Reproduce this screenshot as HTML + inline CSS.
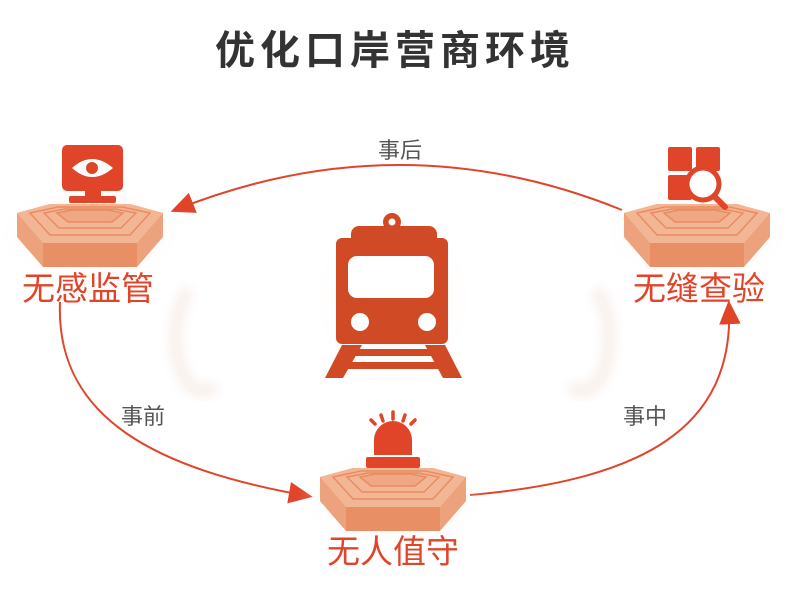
<!DOCTYPE html><html><head><meta charset="utf-8"><style>body{margin:0;background:#fff}svg{display:block}text{font-family:"Liberation Sans","Noto Sans CJK SC",sans-serif}</style></head><body>
<svg width="793" height="589" viewBox="0 0 793 589" xmlns="http://www.w3.org/2000/svg">
<defs>
<radialGradient id="g"><stop offset="0" stop-color="#f6c9ae" stop-opacity=".8"/><stop offset="1" stop-color="#fff" stop-opacity="0"/></radialGradient>
<filter id="bl"><feGaussianBlur stdDeviation="5"/></filter>
<marker id="ah" viewBox="0 0 10 10" refX="8" refY="5" markerWidth="24" markerHeight="24" orient="auto" markerUnits="userSpaceOnUse"><path d="M0,0.5L10,5L0,9.5z" fill="#e0452a"/></marker>
<g id="plat">
<ellipse cx="0" cy="20" rx="95" ry="50" fill="url(#g)"/>
<polygon points="-73,0 -40,-9 40,-9 73,0 73,24 47,54 -47,54 -73,24" fill="#eca27d"/>
<polygon points="-47,30 47,30 47,54 -47,54" fill="#e98f66"/>
<polygon points="-73,0 -40,-9 40,-9 73,0 47,30 -47,30" fill="#f3b694"/>
<polygon points="-60,0 -32,-6 32,-6 60,0 40,22 -40,22" fill="none" stroke="#e98b62" stroke-width="1.5"/>
<polygon points="-46,0 -25,-4 25,-4 46,0 31,15 -31,15" fill="none" stroke="#e98b62" stroke-width="1.5"/>
<polygon points="-33,0 -18,-3 18,-3 33,0 22,9 -22,9" fill="#f0a884" stroke="#e98b62" stroke-width="1.5"/>
</g>
</defs>
<text x="395" y="64" text-anchor="middle" font-size="40" font-weight="bold" fill="#333" letter-spacing="5">优化口岸营商环境</text>
<g filter="url(#bl)" opacity=".5">
<path d="M190,290 A25,50 0 0 0 215,385" fill="none" stroke="#f3e3da" stroke-width="14"/>
<path d="M595,290 A25,50 0 0 1 570,385" fill="none" stroke="#f3e3da" stroke-width="14"/>
</g>
<!-- connectors -->
<path d="M622,210 Q400,120 175,210" fill="none" stroke="#e0452a" stroke-width="2" marker-end="url(#ah)"/>
<path d="M60,302 C55,420 160,470 308,496" fill="none" stroke="#e0452a" stroke-width="2" marker-end="url(#ah)"/>
<path d="M470,495 C640,480 735,430 729,305" fill="none" stroke="#e0452a" stroke-width="2" marker-end="url(#ah)"/>
<text x="400" y="158" text-anchor="middle" font-size="22" fill="#555">事后</text>
<text x="143" y="424" text-anchor="middle" font-size="22" fill="#555">事前</text>
<text x="645" y="424" text-anchor="middle" font-size="22" fill="#555">事中</text>
<!-- platforms -->
<use href="#plat" x="90" y="213"/>
<use href="#plat" x="697" y="213"/>
<use href="#plat" x="393" y="477"/>
<!-- monitor -->
<rect x="62" y="145" width="61" height="46" rx="5" fill="#e0452a"/>
<path d="M72,168 Q92,150 113,168 Q92,186 72,168z" fill="#fff"/><circle cx="92" cy="168" r="6" fill="#e0452a"/>
<rect x="85" y="191" width="16" height="6" fill="#e0452a"/><rect x="69" y="196" width="47" height="7" rx="2" fill="#e0452a"/>
<!-- magnifier -->
<rect x="668" y="147" width="24" height="24" rx="2" fill="#e0452a"/><rect x="696" y="147" width="24" height="24" rx="2" fill="#e0452a"/>
<rect x="668" y="175" width="24" height="25" rx="2" fill="#e0452a"/>
<circle cx="703" cy="184" r="16" fill="#fff" stroke="#e0452a" stroke-width="5"/>
<line x1="714" y1="196" x2="725" y2="207" stroke="#e0452a" stroke-width="6" stroke-linecap="round"/>
<!-- beacon -->
<path d="M374,455 V440 A19,19 0 0 1 412,440 V455z" fill="#e0452a"/>
<rect x="366" y="457" width="54" height="11" rx="2" fill="#e0452a"/>
<g stroke="#e0452a" stroke-width="3.5" stroke-linecap="round"><line x1="393" y1="412" x2="393" y2="419"/><line x1="381" y1="415" x2="383" y2="421"/><line x1="405" y1="415" x2="403" y2="421"/><line x1="371" y1="420" x2="375" y2="424"/><line x1="415" y1="420" x2="411" y2="424"/></g>
<!-- labels -->
<g font-size="33" fill="#e0452a" text-anchor="middle">
<text x="88" y="300">无感监管</text><text x="699" y="300">无缝查验</text><text x="393" y="563">无人值守</text></g>
<!-- train -->
<ellipse cx="393" cy="300" rx="85" ry="95" fill="url(#g)" opacity=".5"/>
<g fill="#d04a26">
<circle cx="392" cy="222" r="9"/>
<rect x="351" y="226" width="86" height="30" rx="8"/>
<rect x="336" y="238" width="112" height="106" rx="6"/>
<polygon points="342,345 362,345 343,378 325,378"/><polygon points="425,345 445,345 462,378 443,378"/>
<rect x="350" y="349" width="86" height="7"/><rect x="340" y="362" width="106" height="7"/>
</g>
<circle cx="392" cy="222" r="3.5" fill="#fff"/>
<rect x="348" y="256" width="86" height="42" rx="9" fill="#fff"/>
<circle cx="360" cy="322" r="9" fill="#fff"/><circle cx="427" cy="322" r="9" fill="#fff"/>
</svg>
</body></html>
